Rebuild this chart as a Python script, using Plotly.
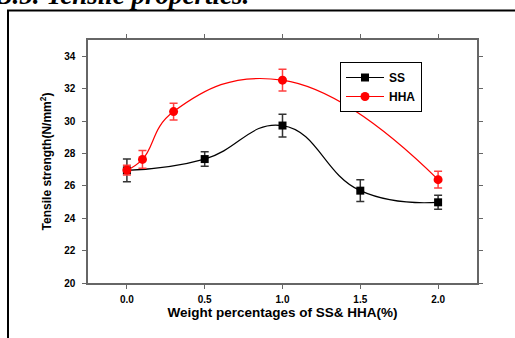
import plotly.graph_objects as go

# Data
ss_x = [0.0, 0.5, 1.0, 1.5, 2.0]
ss_y = [26.95, 27.65, 29.72, 25.70, 24.98]
ss_err = [0.70, 0.45, 0.70, 0.67, 0.43]

hha_x = [0.0, 0.1, 0.3, 1.0, 2.0]
hha_y = [26.97, 27.63, 30.58, 32.52, 26.38]
hha_err = [0.30, 0.55, 0.52, 0.67, 0.52]

x_ticks = [0.0, 0.5, 1.0, 1.5, 2.0]
x_ticklabels = ["0.0", "0.5", "1.0", "1.5", "2.0"]
y_ticks = [20, 22, 24, 26, 28, 30, 32, 34]

FONT = "Arial, Liberation Sans, sans-serif"

fig = go.Figure()
fig.add_trace(go.Scatter(
    x=ss_x, y=ss_y, name="SS", mode="lines+markers",
    line=dict(color="black", width=1.2, shape="spline", smoothing=1.3),
    marker=dict(symbol="square", size=8, color="black"),
    error_y=dict(type="data", array=ss_err, visible=True, color="#333333",
                 thickness=1.5, width=4),
))
fig.add_trace(go.Scatter(
    x=hha_x, y=hha_y, name="HHA", mode="lines+markers",
    line=dict(color="red", width=1.2, shape="spline", smoothing=1.3),
    marker=dict(symbol="circle", size=9, color="red"),
    error_y=dict(type="data", array=hha_err, visible=True, color="#ff4040",
                 thickness=1.5, width=4),
))

W, H = 515, 338
L, R, T, B = 88, 38, 40, 55
pw, ph = W - L - R, H - T - B

def px_to_paper_x(px):
    return (px - L) / pw

def px_to_paper_y(py):
    return 1 - (py - T) / ph

fig.update_layout(
    width=W, height=H,
    margin=dict(l=L, r=R, t=T, b=B),
    paper_bgcolor="white", plot_bgcolor="white",
    font=dict(family=FONT, color="black"),
    showlegend=True,
    legend=dict(
        x=px_to_paper_x(340), y=px_to_paper_y(62), xanchor="left", yanchor="top",
        bordercolor="black", borderwidth=1, bgcolor="white",
        font=dict(family=FONT, size=12, color="black", weight="bold"),
        tracegroupgap=0, itemwidth=38,
    ),
    xaxis=dict(
        range=[-0.25, 2.25], tickvals=x_ticks, ticktext=x_ticklabels,
        showgrid=False, zeroline=False,
        showline=True, linecolor="#666666", linewidth=1.5, mirror="ticks",
        ticks="outside", ticklen=4, tickcolor="#666666", tickwidth=1,
        tickfont=dict(family=FONT, size=10, weight="bold"),
        ticklabelstandoff=2,
        title=dict(text="<b>Weight percentages of SS& HHA(%)</b>",
                   font=dict(family=FONT, size=13.5), standoff=2),
    ),
    yaxis=dict(
        range=[20, 35], tickvals=y_ticks,
        showgrid=False, zeroline=False,
        showline=True, linecolor="#666666", linewidth=1.5, mirror="ticks",
        ticks="outside", ticklen=4, tickcolor="#666666", tickwidth=1,
        tickfont=dict(family=FONT, size=10, weight="bold"),
        ticklabelstandoff=5,
        title=dict(text="<b>Tensile strength(N/mm<sup>2</sup>)</b>",
                   font=dict(family=FONT, size=12), standoff=10),
    ),
)

# Outer document frame
fig.add_shape(type="rect", xref="paper", yref="paper",
              x0=px_to_paper_x(8), y0=px_to_paper_y(400),
              x1=px_to_paper_x(600), y1=px_to_paper_y(10.5),
              line=dict(color="black", width=2), fillcolor="rgba(0,0,0,0)", layer="below")

# Cut-off heading at the top
fig.add_annotation(text="<b><i>3.5. Tensile properties.</i></b>",
                   xref="paper", yref="paper",
                   x=px_to_paper_x(-4), y=px_to_paper_y(12.5),
                   xanchor="left", yanchor="bottom", showarrow=False,
                   font=dict(family="Liberation Serif, Times New Roman, serif", size=27, color="black"))

fig.write_html("out.html")
